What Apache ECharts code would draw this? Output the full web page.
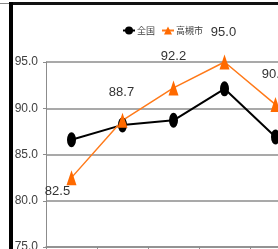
<!DOCTYPE html>
<html>
<head>
<meta charset="utf-8">
<script src="https://cdn.jsdelivr.net/npm/echarts@6/dist/echarts.min.js"></script>
<style>
html,body{margin:0;padding:0;background:#fff;}
#c{width:278px;height:249px;}
</style>
</head>
<body>
<div id="c"></div>
<script>
var categories = ['1', '2', '3', '4', '5'];
var zenkoku = [86.6, 88.2, 88.7, 92.1, 86.9];
var takatsuki = [82.5, 88.7, 92.2, 95.0, 90.4];
var yTicks = [75, 80, 85, 90, 95];
var seriesNames = ['全国', '高槻市'];

var labelOffsets = [[-14, 14], [-1, -28], [0, -31], [-1, -30], [-1, -30]];
var narrow = "'Liberation Sans Narrow','Liberation Sans',sans-serif";

var chart = echarts.init(document.getElementById('c'), null, {renderer: 'canvas'});
chart.setOption({
  animation: false,
  backgroundColor: '#ffffff',
  legend: {
    data: seriesNames,
    left: 117,
    top: 21,
    itemWidth: 12,
    itemHeight: 10,
    itemGap: 6,
    textStyle: {fontSize: 9, color: '#404040', fontFamily: "'Noto Sans CJK JP',sans-serif", padding: [0, 0, 0, -3]}
  },
  grid: {left: 46, top: 62, width: 255, bottom: 2, outerBoundsMode: 'none', containLabel: false},
  xAxis: {
    type: 'category',
    data: categories,
    boundaryGap: true,
    axisLine: {lineStyle: {color: '#8c8c8c', width: 1.5}},
    axisTick: {show: true, length: 4, lineStyle: {color: '#8c8c8c'}},
    axisLabel: {show: false}
  },
  yAxis: {
    type: 'value',
    min: yTicks[0],
    max: yTicks[yTicks.length - 1],
    interval: 5,
    axisLine: {show: true, lineStyle: {color: '#8c8c8c', width: 1}},
    axisTick: {show: true, length: 3, lineStyle: {color: '#8c8c8c'}},
    splitLine: {lineStyle: {color: '#8c8c8c', width: 1.5}},
    axisLabel: {
      margin: 8,
      fontSize: 12,
      color: '#404040',
      fontFamily: narrow,
      formatter: function (v) { return v.toFixed(1); }
    }
  },
  series: [
    {
      name: seriesNames[0],
      type: 'line',
      data: zenkoku,
      symbol: 'circle',
      symbolSize: [9, 15],
      itemStyle: {color: '#000000'},
      lineStyle: {color: '#000000', width: 2}
    },
    {
      name: seriesNames[1],
      type: 'line',
      data: takatsuki.map(function (v, i) {
        return {
          value: v,
          label: {offset: labelOffsets[i]}
        };
      }),
      symbol: 'triangle',
      symbolSize: [10, 15],
      itemStyle: {color: '#ff6a00'},
      lineStyle: {color: '#ff7a1a', width: 1.5},
      label: {
        show: true,
        position: 'inside',
        fontSize: 13,
        color: '#333333',
        fontFamily: narrow,
        formatter: function (p) { return p.value.toFixed(1); }
      },
      z: 3
    }
  ],
  graphic: [
    {type: 'rect', shape: {x: 9, y: 2, width: 269, height: 3}, style: {fill: '#111111'}, z: 100},
    {type: 'rect', shape: {x: 9, y: 2, width: 4, height: 247}, style: {fill: '#000000'}, z: 100},
    {type: 'line', shape: {x1: 0, y1: 3.5, x2: 9, y2: 3.5}, style: {stroke: '#888888', lineWidth: 1}, z: 100}
  ]
});
</script>
</body>
</html>
